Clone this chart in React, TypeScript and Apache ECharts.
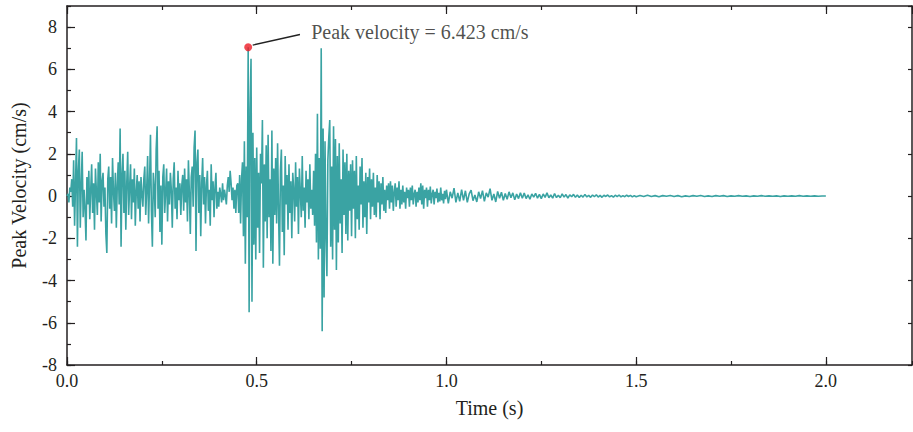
import React, { useEffect, useRef } from "react";
import * as echarts from "echarts";

// Velocity samples, 0.0–0.5 s, step 0.0025 s
const velocityA = [
  0, 0.1, -0.3, 0.4, 0.2, 0.8, -0.5, 1.7, -1.4, 0.6, 2.75, -2.4, 1.2, 2.2, -1.5, 0.5, 2.1, -1.0, 0.3, -0.6,
  -2.1, 0.9, -0.4, 1.2, -1.1, 0.3, 1.5, -0.8, 0.6, -1.6, 1.3, 0.2, -0.9, 1.6, -0.3, 2.0, -1.2, 0.7, 1.1, -0.5,
  0.4, -1.8, -2.7, 0.8, 1.4, -0.6, 0.9, -1.3, 1.8, 0.2, -0.7, 1.1, -1.5, 0.5, 1.6, -0.4, 3.2, -2.4, 1.0, 2.0,
  -0.8, 1.2, -1.6, 0.6, 2.1, -0.9, 0.4, 1.5, -1.1, 0.8, -0.3, 1.3, -1.4, 0.2, 1.0, -0.6, 0.7, -1.2, 0.9, 0.1,
  -0.5, 0.8, 1.4, -0.9, 0.3, 1.9, -1.3, 0.6, 2.9, -0.7, -2.4, 1.1, 0.4, -1.0, 2.2, 3.3, -0.6, 1.2, -1.7, 0.5,
  -2.3, 0.9, 1.5, -0.8, 0.2, 1.3, -1.2, 0.7, -0.4, 1.1, 0.3, -1.5, 0.8, 1.6, -0.6, 0.4, -1.1, 1.2, -0.2, 0.6,
  -0.9, 0.5, 1.0, -0.7, 1.3, -0.3, 0.8, -1.2, 1.7, 0.2, -1.8, 0.9, 1.4, -0.5, 2.3, 3.1, -2.6, 1.6, 2.2, -0.8,
  1.0, -1.9, 0.6, 1.8, -0.4, 0.9, -1.3, 0.5, 1.2, -0.7, 0.3, -1.4, 1.5, -0.2, 0.7, -1.0, 0.4, 1.1, -0.6, 0.2,
  -0.5, 0.4, 0.1, -0.3, 0.6, -0.2, 0.3, 0.0, -0.4, 0.5, 0.9, 0.2, 1.2, 0.6, -0.2, 0.4, -0.6, 0.3, -0.8, 0.5,
  0.6, -0.8, 1.0, -1.3, 0.8, 1.6, -1.9, 2.6, -3.2, 1.4, -1.0, 7.05, -5.5, 4.1, 6.5, -5.0, 3.0, -2.3, 1.8, -3.0,
];

// Velocity samples, 0.5–1.0 s, step 0.0025 s
const velocityB = [
  2.3, -1.5, 1.1, -2.7, 2.0, 0.6, 3.6, -3.4, 1.5, -1.2, 2.4, -2.0, 2.9, -1.0, 0.8, -2.6, 3.1, -3.2, 1.3, -0.9,
  1.8, -1.3, 2.5, -0.6, -3.3, 1.2, 2.2, -1.7, 0.5, -2.8, 1.9, -0.4, 1.0, -1.6, 1.5, -0.8, 0.7, -2.0, 1.1, 0.3,
  -1.2, 1.6, -0.5, 0.9, -1.8, 1.3, 0.2, -1.0, 1.9, -0.7, 0.4, -1.5, 1.2, -0.3, 0.8, -1.1, 1.5, -0.6, 0.3, -0.9,
  1.2, -1.4, 2.0, -2.2, 3.9, -3.0, 1.8, -2.5, 7.0, -6.4, 3.2, -4.8, 2.6, -1.9, -3.8, 1.7, 2.8, 3.6, -2.4, 1.4,
  -3.0, 3.3, -1.6, 2.7, -3.5, 1.9, -2.2, 2.5, -1.3, 0.8, -2.7, 2.2, -0.9, 1.6, -1.8, 2.0, -2.1, 1.2, -0.7, 1.5,
  -1.9, 1.7, -0.6, 1.2, -2.0, 1.9, -1.1, 0.5, -1.6, 1.4, -0.4, 1.8, -1.5, 0.7, -1.0, 1.1, -1.8, 0.9, -0.3, 1.3,
  -1.1, 0.8, -0.5, 1.1, -0.9, 0.4, -1.0, 1.0, -0.3, 0.7, -1.1, 0.6, -0.4, 0.9, -0.7, 0.3, -0.8, 0.5, -0.2, 0.6,
  -0.6, 0.7, -0.3, 0.5, -0.7, 0.2, 0.6, -0.5, 0.4, -0.2, 0.7, -0.6, 0.3, -0.4, 0.5, -0.3, 0.2, -0.6, 0.4, -0.1,
  0.3, -0.5, 0.4, -0.2, 0.5, -0.4, 0.1, 0.3, -0.5, 0.2, -0.3, 0.4, -0.2, 0.6, -0.4, 0.5, -0.6, 0.3, -0.1, 0.4,
  -0.5, 0.3, -0.2, 0.45, -0.35, 0.1, 0.3, -0.4, 0.2, -0.1, 0.35, -0.3, 0.15, -0.25, 0.4, -0.2, 0.1, -0.35, 0.25, -0.15,
];

// Velocity samples, 1.0–1.5 s, step 0.005 s
const velocityC = [
  0.3, -0.35, 0.2, -0.1, 0.38, -0.3, 0.15, -0.25, 0.3, -0.2,
  0.25, -0.3, 0.1, 0.28, -0.22, 0.05, -0.28, 0.2, -0.12, 0.26,
  -0.25, 0.15, -0.05, 0.35, -0.2, 0.1, -0.28, 0.22, -0.1, 0.18,
  -0.2, 0.12, -0.15, 0.2, -0.08, 0.15, -0.18, 0.1, -0.12, 0.16,
  -0.1, 0.14, -0.12, 0.06, -0.15, 0.1, -0.05, 0.13, -0.1, 0.08,
  -0.12, 0.1, -0.06, 0.15, -0.08, 0.05, -0.1, 0.12, -0.07, 0.04,
  -0.08, 0.1, -0.05, 0.07, -0.1, 0.06, -0.03, 0.08, -0.06, 0.05,
  -0.07, 0.04, -0.05, 0.08, -0.04, 0.03, -0.06, 0.05, -0.03, 0.06,
  -0.05, 0.03, -0.06, 0.04, -0.02, 0.05, -0.04, 0.02, -0.05, 0.04,
  -0.03, 0.05, -0.04, 0.02, -0.03, 0.04, -0.02, 0.03, -0.04, 0.02,
];

// Velocity samples, 1.5–2.0 s, step 0.01 s
const velocityD = [
  -0.03, 0.03, -0.02, 0.04, -0.02, 0.02, -0.03, 0.02, -0.01, 0.03,
  -0.02, 0.02, -0.03, 0.01, -0.02, 0.02, -0.01, 0.03, -0.02, 0.01,
  -0.02, 0.02, -0.01, 0.02, -0.02, 0.01, -0.01, 0.02, -0.01, 0.01,
  -0.02, 0.01, -0.01, 0.02, -0.01, 0.01, -0.01, 0.01, -0.02, 0.01,
  -0.01, 0.01, -0.01, 0.02, -0.01, 0.01, -0.01, 0.01, -0.01, 0.0, 0.0,
];

const segments = [
  { start: 0.0, step: 0.0025, values: velocityA },
  { start: 0.5, step: 0.0025, values: velocityB },
  { start: 1.0, step: 0.005, values: velocityC },
  { start: 1.5, step: 0.01, values: velocityD },
];

const xTickLabels = ["0.0", "0.5", "1.0", "1.5", "2.0"];
const peakLabel = "Peak velocity = 6.423 cm/s";

const FONT = "'Liberation Serif', 'Times New Roman', serif";
const AX = "#231f20";

export default function App() {
  const ref = useRef<HTMLDivElement>(null);
  useEffect(() => {
    if (!ref.current) return;
    const chart = echarts.init(ref.current, undefined, { renderer: "svg" });
    const data: number[][] = [];
    segments.forEach((s) =>
      s.values.forEach((v, i) => data.push([+(s.start + i * s.step).toFixed(4), v]))
    );
    let pk = data[0];
    data.forEach((d) => {
      if (d[1] > pk[1]) pk = d;
    });

    const tickStyle = { color: AX, width: 1.2 };
    const baseX = {
      type: "value",
      min: 0,
      max: 2.227,
      splitLine: { show: false },
      axisLabel: { show: false },
    };
    const baseY = {
      type: "value",
      min: -8,
      max: 9,
      splitLine: { show: false },
      axisLabel: { show: false },
    };

    chart.setOption({
      animation: false,
      grid: { left: 67, right: 1, top: 6, bottom: 67, containLabel: false },
      xAxis: [
        {
          ...baseX,
          position: "bottom",
          interval: 0.5,
          axisLine: { show: true, onZero: false, lineStyle: { color: AX, width: 1.5 } },
          axisTick: { show: true, inside: true, length: 8, lineStyle: tickStyle },
          axisLabel: {
            show: true,
            showMaxLabel: false,
            margin: 7,
            fontSize: 18,
            fontFamily: FONT,
            color: AX,
            formatter: (v: number) => xTickLabels[Math.round(v / 0.5)] ?? "",
          },
          name: "Time (s)",
          nameLocation: "middle",
          nameGap: 33,
          nameTextStyle: { fontSize: 20, fontFamily: FONT, color: AX },
        },
        {
          ...baseX,
          position: "bottom",
          interval: 0.25,
          axisLine: { show: false, onZero: false },
          axisTick: { show: true, inside: true, length: 4, lineStyle: tickStyle },
        },
        {
          ...baseX,
          position: "top",
          interval: 0.5,
          axisLine: { show: true, onZero: false, lineStyle: { color: AX, width: 1.5 } },
          axisTick: { show: true, inside: true, length: 8, lineStyle: tickStyle },
        },
        {
          ...baseX,
          position: "top",
          interval: 0.25,
          axisLine: { show: false, onZero: false },
          axisTick: { show: true, inside: true, length: 4, lineStyle: tickStyle },
        },
      ],
      yAxis: [
        {
          ...baseY,
          position: "left",
          interval: 2,
          axisLine: { show: true, onZero: false, lineStyle: { color: AX, width: 1.5 } },
          axisTick: { show: true, inside: true, length: 8, lineStyle: tickStyle },
          axisLabel: {
            show: true,
            showMaxLabel: false,
            margin: 10,
            fontSize: 18,
            fontFamily: FONT,
            color: AX,
            formatter: (v: number) => (v > 8 ? "" : String(v)),
          },
          name: "Peak Velocity (cm/s)",
          nameLocation: "middle",
          nameGap: 38,
          nameTextStyle: { fontSize: 20, fontFamily: FONT, color: AX },
        },
        {
          ...baseY,
          position: "left",
          interval: 1,
          axisLine: { show: false, onZero: false },
          axisTick: { show: true, inside: true, length: 4, lineStyle: tickStyle },
        },
        {
          ...baseY,
          position: "right",
          interval: 2,
          axisLine: { show: true, onZero: false, lineStyle: { color: AX, width: 1.5 } },
          axisTick: { show: true, inside: true, length: 4, lineStyle: tickStyle },
        },
      ],
      series: [
        {
          type: "line",
          xAxisIndex: 0,
          yAxisIndex: 0,
          data,
          showSymbol: false,
          symbol: "none",
          lineStyle: { color: "#3aa3a3", width: 1.6 },
          z: 2,
          markLine: {
            silent: true,
            symbol: ["none", "none"],
            lineStyle: { color: "#222", width: 1.3, type: "solid" },
            label: { show: false },
            data: [[{ coord: [pk[0] + 0.012, pk[1] + 0.1] }, { coord: [0.614, 7.65] }]],
          },
        },
        {
          type: "scatter",
          xAxisIndex: 0,
          yAxisIndex: 0,
          data: [pk],
          symbol: "circle",
          symbolSize: 8,
          itemStyle: { color: "#ee1c25" },
          z: 5,
          label: {
            show: true,
            formatter: peakLabel,
            position: [67, -11],
            align: "left",
            verticalAlign: "middle",
            fontSize: 20,
            fontFamily: FONT,
            color: AX,
          },
        },
      ],
    });
    return () => chart.dispose();
  }, []);
  return (
    <div
      ref={ref}
      style={{ position: "fixed", left: 0, top: 0, width: 913, height: 432, background: "#fff" }}
    />
  );
}
